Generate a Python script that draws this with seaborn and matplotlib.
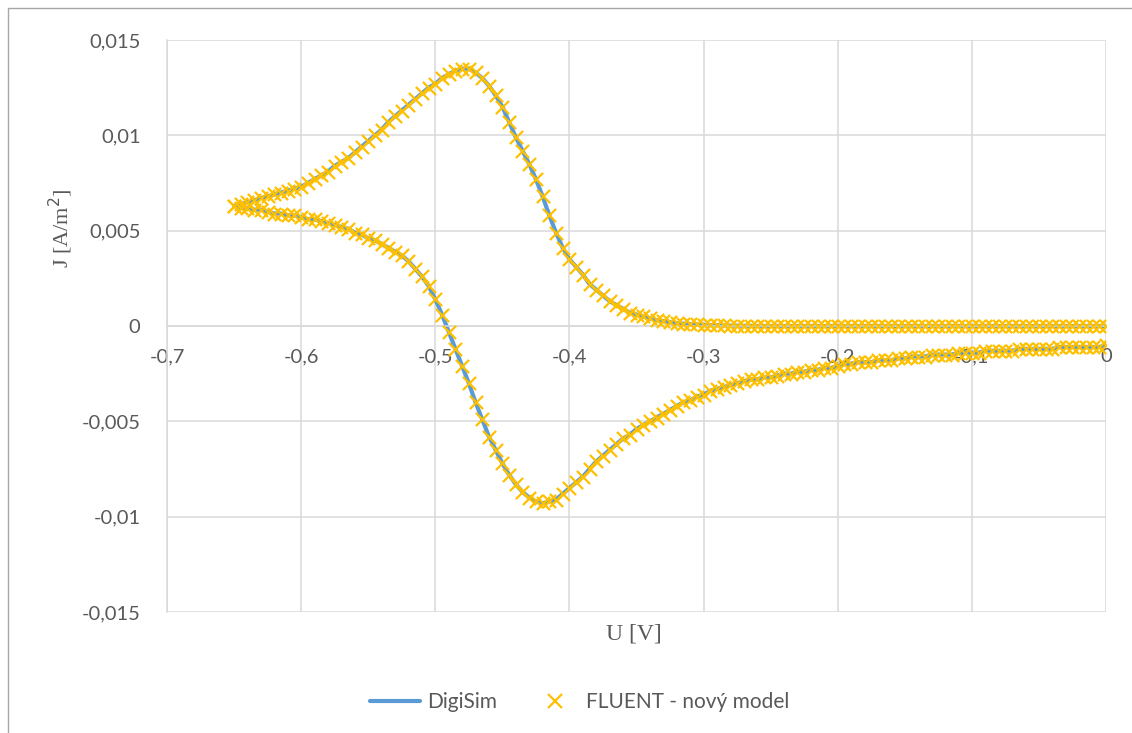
import matplotlib
matplotlib.use("Agg")
import matplotlib.pyplot as plt
from matplotlib.lines import Line2D
from matplotlib.patches import Rectangle
from matplotlib.ticker import FuncFormatter
import pandas as pd
import seaborn as sns

# potential grid (ascending), step 5 mV
u_grid = [
    -0.650, -0.645, -0.640, -0.635, -0.630, -0.625, -0.620, -0.615, -0.610, -0.605,
    -0.600, -0.595, -0.590, -0.585, -0.580, -0.575, -0.570, -0.565, -0.560, -0.555,
    -0.550, -0.545, -0.540, -0.535, -0.530, -0.525, -0.520, -0.515, -0.510, -0.505,
    -0.500, -0.495, -0.490, -0.485, -0.480, -0.475, -0.470, -0.465, -0.460, -0.455,
    -0.450, -0.445, -0.440, -0.435, -0.430, -0.425, -0.420, -0.415, -0.410, -0.405,
    -0.400, -0.395, -0.390, -0.385, -0.380, -0.375, -0.370, -0.365, -0.360, -0.355,
    -0.350, -0.345, -0.340, -0.335, -0.330, -0.325, -0.320, -0.315, -0.310, -0.305,
    -0.300, -0.295, -0.290, -0.285, -0.280, -0.275, -0.270, -0.265, -0.260, -0.255,
    -0.250, -0.245, -0.240, -0.235, -0.230, -0.225, -0.220, -0.215, -0.210, -0.205,
    -0.200, -0.195, -0.190, -0.185, -0.180, -0.175, -0.170, -0.165, -0.160, -0.155,
    -0.150, -0.145, -0.140, -0.135, -0.130, -0.125, -0.120, -0.115, -0.110, -0.105,
    -0.100, -0.095, -0.090, -0.085, -0.080, -0.075, -0.070, -0.065, -0.060, -0.055,
    -0.050, -0.045, -0.040, -0.035, -0.030, -0.025, -0.020, -0.015, -0.010, -0.005,
    0.000,
]

# forward scan (0 -> -0.65), values listed along u_grid
j_forward = [
    0.0063, 0.0064, 0.0065, 0.0066, 0.0067, 0.0068, 0.0069, 0.0070, 0.0071, 0.0072,
    0.0073, 0.0075, 0.0077, 0.0079, 0.0081, 0.0084, 0.0086, 0.0088, 0.0091, 0.0094,
    0.0097, 0.0100, 0.0103, 0.0107, 0.0110, 0.0113, 0.0116, 0.0119, 0.0122, 0.0125,
    0.0127, 0.0130, 0.0132, 0.0134, 0.0135, 0.0135, 0.0133, 0.0130, 0.0126, 0.0121,
    0.0115, 0.0107, 0.0099, 0.0092, 0.0085, 0.0077, 0.0068, 0.0058, 0.0049, 0.0041,
    0.0035, 0.0031, 0.0027, 0.0022, 0.0019, 0.0016, 0.0013, 0.0011, 0.0009, 0.0007,
    0.0006, 0.0005, 0.0004, 0.0003, 0.00025, 0.0002, 0.00015, 0.00012, 0.0001, 0.00008,
    0.00006, 0.00005, 0.00004, 0.00003, 0.00002, 0.00002, 0.00001, 0.00001, 0.0, 0.0,
    0.0, 0.0, 0.0, 0.0, 0.0, 0.0, 0.0, 0.0, 0.0, 0.0,
    0.0, 0.0, 0.0, 0.0, 0.0, 0.0, 0.0, 0.0, 0.0, 0.0,
    0.0, 0.0, 0.0, 0.0, 0.0, 0.0, 0.0, 0.0, 0.0, 0.0,
    0.0, 0.0, 0.0, 0.0, 0.0, 0.0, 0.0, 0.0, 0.0, 0.0,
    0.0, 0.0, 0.0, 0.0, 0.0, 0.0, 0.0, 0.0, 0.0, 0.0,
    0.0,
]

# reverse scan (-0.65 -> 0)
j_reverse = [
    0.0063, 0.0062, 0.0062, 0.0061, 0.0061, 0.0060, 0.0059, 0.0059, 0.0058, 0.0058,
    0.0057, 0.0056, 0.0056, 0.0055, 0.0054, 0.0053, 0.0052, 0.0051, 0.0049, 0.0048,
    0.0046, 0.0045, 0.0043, 0.0041, 0.0039, 0.0037, 0.0034, 0.0030, 0.0026, 0.0021,
    0.0014, 0.0006, -0.0003, -0.0012, -0.0021, -0.0030, -0.0040, -0.0049, -0.0058, -0.0065,
    -0.0072, -0.0078, -0.0083, -0.0087, -0.0090, -0.0092, -0.0093, -0.0092, -0.0091, -0.0088,
    -0.0085, -0.0082, -0.0079, -0.0075, -0.0071, -0.0068, -0.0065, -0.0062, -0.0059, -0.0057,
    -0.0054, -0.0052, -0.0050, -0.0048, -0.0046, -0.0044, -0.0042, -0.0040, -0.0039, -0.0037,
    -0.0036, -0.0034, -0.0033, -0.0032, -0.0031, -0.0030, -0.0029, -0.0028, -0.0028, -0.0027,
    -0.0027, -0.0026, -0.0025, -0.0025, -0.0024, -0.0024, -0.0023, -0.0023, -0.0022, -0.0022,
    -0.0021, -0.0020, -0.0020, -0.0019, -0.0019, -0.0019, -0.0018, -0.0018, -0.0018, -0.0017,
    -0.0017, -0.0016, -0.0016, -0.0016, -0.0015, -0.0015, -0.0015, -0.0015, -0.0014, -0.0014,
    -0.0014, -0.0014, -0.0013, -0.0013, -0.0013, -0.0013, -0.0013, -0.0012, -0.0012, -0.0012,
    -0.0012, -0.0012, -0.0012, -0.0011, -0.0011, -0.0011, -0.0011, -0.0011, -0.0011, -0.0011,
    -0.0010,
]

x_ticks = [-0.7, -0.6, -0.5, -0.4, -0.3, -0.2, -0.1, 0.0]
y_ticks = [-0.015, -0.01, -0.005, 0.0, 0.005, 0.01, 0.015]

# whole cycle in scan order
cycle = pd.DataFrame({
    "U": u_grid[::-1] + u_grid,
    "J": j_forward[::-1] + j_reverse,
})

sns.set_style("white")
plt.rcParams["font.family"] = ["Lato", "DejaVu Sans"]

fig = plt.figure(figsize=(11.32, 7.33), dpi=100)
ax = fig.add_axes([167 / 1132, 1 - 612 / 733, (1106 - 167) / 1132, (612 - 40) / 733])

sns.lineplot(data=cycle, x="U", y="J", sort=False, estimator=None, color="#5B9BD5",
             linewidth=3, ax=ax, zorder=2, legend=False)
sns.scatterplot(data=cycle, x="U", y="J", marker="x", color="#FFC000", s=90,
                linewidth=1.6, ax=ax, zorder=3, legend=False)

ax.set_xlim(-0.7, 0)
ax.set_ylim(-0.015, 0.015)
ax.set_xticks(x_ticks)
ax.set_yticks(y_ticks)

comma = FuncFormatter(lambda v, p: ("%g" % round(v, 4)).replace(".", ",") if abs(v) > 1e-12 else "0")
ax.xaxis.set_major_formatter(comma)
ax.yaxis.set_major_formatter(comma)

ax.grid(True, color="#D9D9D9", linewidth=1.1)
ax.set_axisbelow(True)
for s in ["top", "right"]:
    ax.spines[s].set_visible(False)
ax.spines["bottom"].set_position(("data", 0))
for s in ["bottom", "left"]:
    ax.spines[s].set_color("#D9D9D9")
    ax.spines[s].set_linewidth(1.1)

ax.tick_params(axis="both", length=0, labelsize=14.5, labelcolor="#595959")
ax.tick_params(axis="x", pad=16)
ax.tick_params(axis="y", pad=19)

ax.set_xlabel("")
ax.set_ylabel("")
fig.text(634 / 1132, 1 - 634 / 733, "U [V]", family="Liberation Serif", fontsize=17,
         color="#595959", ha="center", va="center")
fig.text(61 / 1132, 1 - 228 / 733, "J [A/m$^2$]", family="Liberation Serif", fontsize=16,
         color="#595959", ha="center", va="center", rotation=90)

handles = [
    Line2D([], [], color="#5B9BD5", linewidth=3),
    Line2D([], [], color="#FFC000", marker="x", linestyle="none", markersize=10,
           markeredgewidth=1.6),
]
fig.legend(handles, ["DigiSim", "FLUENT - nový model"], loc="center",
           bbox_to_anchor=(580 / 1132, 1 - 702 / 733), ncol=2, frameon=False,
           fontsize=15, handlelength=2.4, columnspacing=1.6, handletextpad=0.3,
           labelcolor="#595959")

# chart frame
fig.patches.append(Rectangle((8 / 1132, -0.1), 1.2, 1 - 8 / 733 + 0.1,
                             transform=fig.transFigure, fill=False,
                             edgecolor="#A6A6A6", linewidth=1))

fig.savefig("out.png", dpi=100)
